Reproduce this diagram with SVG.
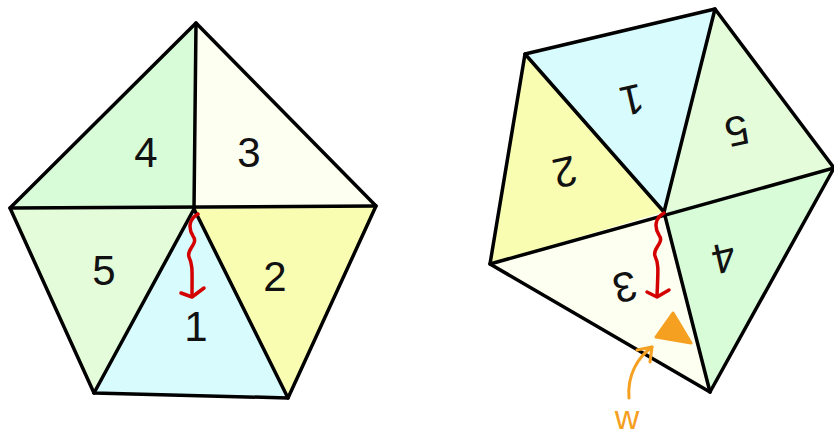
<svg xmlns="http://www.w3.org/2000/svg" width="834" height="437" viewBox="0 0 834 437">
<style>
.e{stroke:#000;stroke-width:3.5;stroke-linejoin:round;stroke-linecap:round}
.c1{fill:#d8fbfe}.c2{fill:#f8fdb2}.c3{fill:#fdfff1}.c4{fill:#d8fbd8}.c5{fill:#e4fcd9}
.t{font-family:"Liberation Sans",Arial,sans-serif;font-size:42px;fill:#111;text-anchor:middle;dominant-baseline:central}
.r{fill:none;stroke:#d40000;stroke-width:3.5;stroke-linecap:round;stroke-linejoin:round}
.o{fill:none;stroke:#f5a020;stroke-width:3;stroke-linecap:round;stroke-linejoin:round}
</style>
<rect width="834" height="437" fill="#fff"/>
<g id="left-pentagon">
<polygon class="c4" points="196,23 10,208 194,209"/>
<polygon class="c3" points="196,23 194,209 376,206"/>
<polygon class="c5" points="10,208 194,209 94,393"/>
<polygon class="c1" points="194,209 94,393 288,398"/>
<polygon class="c2" points="194,209 376,206 288,398"/>
<g class="e" fill="none">
<polygon points="196,23 376,206 288,398 94,393 10,208"/>
<line x1="196" y1="23" x2="194" y2="209"/>
<line x1="10" y1="208" x2="376" y2="206"/>
<line x1="194" y1="209" x2="94" y2="393"/>
<line x1="194" y1="209" x2="288" y2="398"/>
</g>
<text class="t" x="146" y="152">4</text>
<text class="t" x="249" y="152">3</text>
<text class="t" x="104" y="270">5</text>
<text class="t" x="275" y="276">2</text>
<text class="t" x="196" y="326">1</text>
</g>
<g id="right-pentagon">
<polygon class="c1" points="525,54 715,9 664,212"/>
<polygon class="c5" points="715,9 834,168 664,212"/>
<polygon class="c2" points="525,54 664,212 490,264"/>
<polygon class="c3" points="490,264 664,212 710,392"/>
<polygon class="c4" points="664,212 834,168 710,392"/>
<g class="e" fill="none">
<polyline points="834,168 715,9 525,54 490,264 710,392 834,168"/>
<line x1="715" y1="9" x2="664" y2="212"/>
<line x1="525" y1="54" x2="664" y2="212"/>
<line x1="490" y1="264" x2="834" y2="168"/>
<line x1="664" y1="212" x2="710" y2="392"/>
</g>
<text class="t" transform="translate(632,100) rotate(167)">1</text>
<text class="t" transform="translate(737,131) rotate(167)">5</text>
<text class="t" transform="translate(565,172) rotate(167)">2</text>
<text class="t" transform="translate(724,258) rotate(167)">4</text>
<text class="t" transform="translate(625,287) rotate(167)">3</text>
</g>
<g id="connectors">
<path class="r" d="M198,214 C189,219 188,228 193,236 C199,244 186,249 189,257 C193,265 192,272 192,296"/>
<polyline class="r" points="181,293 192,297 204,288"/>
<path class="r" d="M664,213 C655,218 654,227 659,235 C665,243 652,248 655,256 C659,264 658,271 657,296"/>
<polyline class="r" points="647,292 657,297 669,290"/>
</g>
<g id="w-marker">
<polygon points="673,313 656,337 691,343" fill="#f5a020" stroke="#f5a020" stroke-width="3" stroke-linejoin="round"/>
<path class="o" d="M629,398 C627,375 638,357 652,347"/>
<polyline class="o" points="637,350 652,347 650,362"/>
<text x="627" y="429" font-family="Liberation Sans,Arial,sans-serif" font-size="34" fill="#f5a020" text-anchor="middle">w</text>
</g>
</svg>
